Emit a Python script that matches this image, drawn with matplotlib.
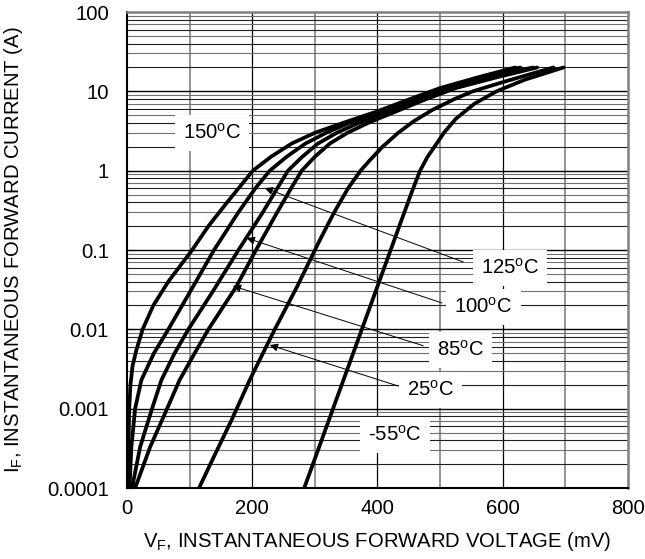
import matplotlib
matplotlib.use('Agg')

import matplotlib.pyplot as plt
import numpy as np

plt.rcParams['font.family'] = ['Liberation Sans', 'DejaVu Sans']
plt.rcParams['mathtext.fontset'] = 'custom'
plt.rcParams['mathtext.rm'] = 'Liberation Sans'
plt.rcParams['mathtext.it'] = 'Liberation Sans'

# forward voltage (mV) vs forward current (A)
vf_150 = [1, 3.5, 5.5, 9, 15, 25, 42, 66, 104, 130, 160, 201, 230, 263, 300, 345, 400, 452, 500, 560, 620]
if_150 = [1e-4, 1e-3, 2e-3, 3.5e-3, 5.5e-3, 1e-2, 2e-2, 4e-2, 0.1, 0.2, 0.4, 1, 1.5, 2.2, 3, 4, 5.6, 8, 11, 15, 20]

vf_125 = [4, 7, 13, 23, 43, 66, 101, 139, 178, 205, 228, 255, 285, 318, 355, 405, 457, 505, 565, 628]
if_125 = [1e-4, 3.3e-4, 1e-3, 2.3e-3, 5e-3, 1e-2, 3e-2, 0.1, 0.3, 0.6, 1, 1.5, 2.2, 3, 4, 5.6, 8, 11, 15, 20]

vf_100 = [8, 21, 40, 55, 76, 98, 137, 178, 217, 240, 257, 280, 305, 335, 370, 418, 468, 515, 580, 648]
if_100 = [1e-4, 3.3e-4, 1e-3, 2.3e-3, 5e-3, 1e-2, 3e-2, 0.1, 0.3, 0.6, 1, 1.5, 2.2, 3, 4, 5.6, 8, 11, 15, 20]

vf_85 = [13, 37, 64, 84, 108, 130, 174, 206, 240, 262, 279, 300, 324, 352, 385, 430, 478, 525, 590, 655]
if_85 = [1e-4, 3.3e-4, 1e-3, 2.3e-3, 5e-3, 1e-2, 3.4e-2, 0.1, 0.3, 0.6, 1, 1.5, 2.2, 3, 4, 5.6, 8, 11, 15, 20]

vf_25 = [115, 140, 167, 196, 236, 272, 308, 331, 353, 373, 388, 408, 433, 458, 487, 523, 552, 602, 681]
if_25 = [1e-4, 2.6e-4, 7.2e-4, 2.3e-3, 1e-2, 3.5e-2, 0.134, 0.3, 0.6, 1, 1.36, 2, 3, 4.2, 5.8, 8, 10, 13.2, 20]

vf_m55 = [283, 305, 329, 351, 375, 397, 421, 443, 457, 468, 480, 491, 506, 525, 555, 590, 635, 697]
if_m55 = [1e-4, 3e-4, 1e-3, 3e-3, 1e-2, 3e-2, 0.1, 0.3, 0.6, 1, 1.5, 2, 3, 4.5, 7, 10, 14, 20]

kurven = [(vf_150, if_150), (vf_125, if_125), (vf_100, if_100),
          (vf_85, if_85), (vf_25, if_25), (vf_m55, if_m55)]

x_ticks = [0, 200, 400, 600, 800]
y_ticks = [1e-4, 1e-3, 1e-2, 1e-1, 1, 10, 100]
y_tick_labels = ['0.0001', '0.001', '0.01', '0.1', '1', '10', '100']

# label text, label position, arrow start, arrow tip (None = no arrow)
beschriftungen = [
    ('150$^{\\rm o}$C', (136, 2.98), None, None),
    ('125$^{\\rm o}$C', (612, 0.0593), (537, 0.0706), (220, 0.604)),
    ('100$^{\\rm o}$C', (569, 0.0191), (503, 0.0215), (191, 0.1416)),
    ('85$^{\\rm o}$C', (532, 0.00548), (473, 0.00622), (169, 0.0352)),
    ('25$^{\\rm o}$C', (484, 0.00172), (433, 0.00193), (228, 0.00634)),
    ('-55$^{\\rm o}$C', (428, 0.000466), None, None),
]

fs = 14.6

fig = plt.figure(figsize=(6.45, 5.59), dpi=100)
ax = fig.add_axes([0.1969, 0.127, 0.7767, 0.8515])
ax.set_yscale('log')
ax.set_xlim(0, 800)
ax.set_ylim(1e-4, 100)

# grid
for x in range(100, 800, 100):
    if x % 200 == 0:
        ax.axvline(x, color='black', lw=0.9, zorder=1)
    else:
        ax.axvline(x, color='#808080', lw=1.2, zorder=1)
for dek in range(-4, 2):
    for m in range(2, 10):
        farbe = '#202020' if m % 2 == 0 else '#707070'
        ax.axhline(m * 10.0 ** dek, color=farbe, lw=0.8, zorder=1)
    if dek > -4:
        ax.axhline(10.0 ** dek, color='black', lw=1.0, zorder=1)

for v, i in kurven:
    ax.plot(v, i, color='black', lw=2.7, solid_capstyle='round',
            solid_joinstyle='round', zorder=3)

for text, pos, start, spitze in beschriftungen:
    ax.text(pos[0], pos[1], text, fontsize=fs, ha='center', va='center', zorder=5,
            bbox=dict(boxstyle='square,pad=0.4', fc='white', ec='none'))
    if spitze is not None:
        ax.annotate('', xy=spitze, xytext=start, zorder=4,
                    arrowprops=dict(arrowstyle='-|>', color='black', lw=0.7,
                                    mutation_scale=12, shrinkA=0, shrinkB=0))

ax.set_xticks(x_ticks)
ax.set_yticks(y_ticks)
ax.set_yticklabels(y_tick_labels)
ax.minorticks_off()
ax.tick_params(axis='x', length=0, pad=8, labelsize=fs)
ax.tick_params(axis='y', direction='in', length=4, pad=13, labelsize=fs)

for s in ['left', 'bottom']:
    ax.spines[s].set_color('black')
    ax.spines[s].set_linewidth(1.5)
for s in ['top', 'right']:
    ax.spines[s].set_color('#808080')
    ax.spines[s].set_linewidth(1.8)

ax.set_xlabel('V$_{\\rm F}$, INSTANTANEOUS FORWARD VOLTAGE (mV)', fontsize=fs)
ax.set_ylabel('I$_{\\rm F}$, INSTANTANEOUS FORWARD CURRENT (A)', fontsize=fs)
ax.xaxis.set_label_coords(0.5, -0.088)
ax.yaxis.set_label_coords(-0.203, 0.5)

fig.savefig('out.png', dpi=100)
